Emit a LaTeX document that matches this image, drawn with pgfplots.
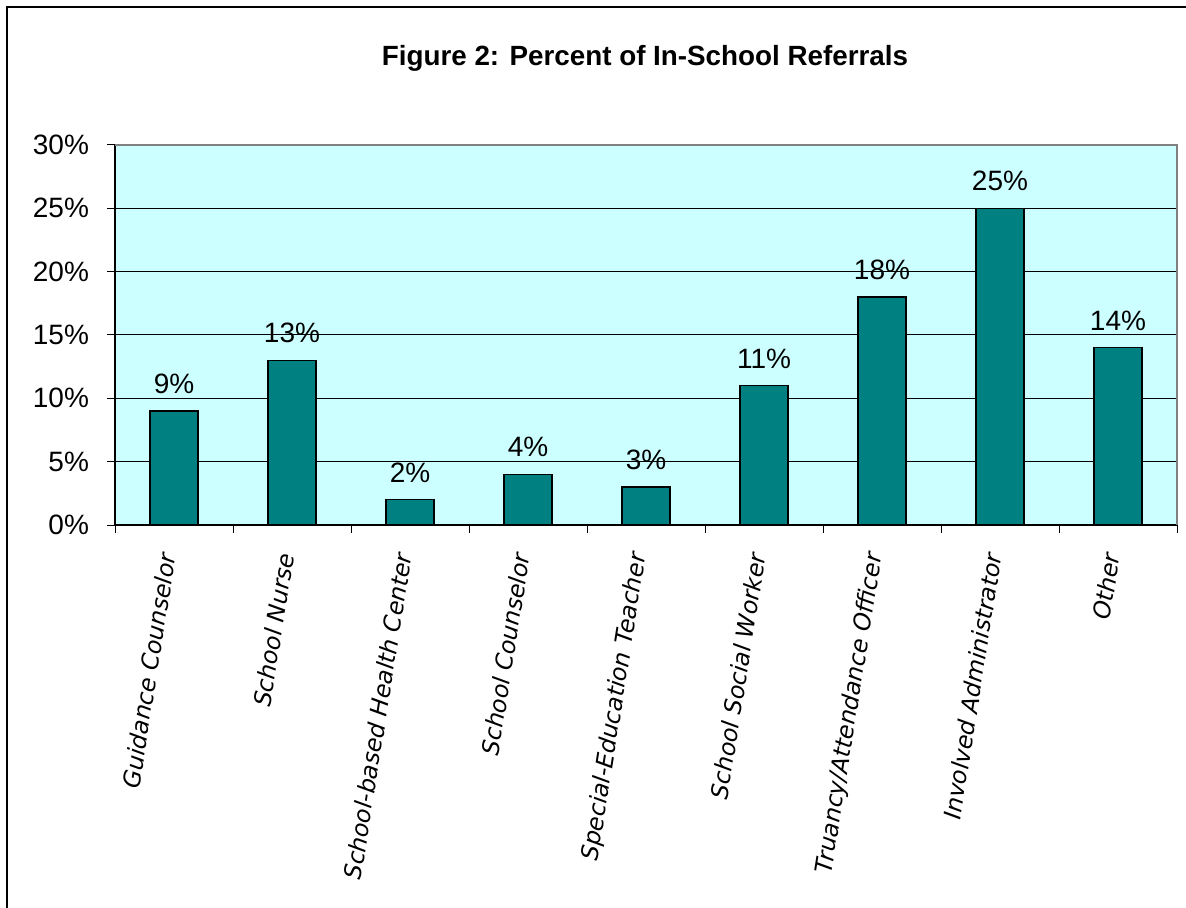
\documentclass[border=0pt]{standalone}
\usepackage{pgfplots}
\pgfplotsset{compat=1.18}
\usepackage{fontspec}
\setmainfont{Liberation Sans}
\newfontfamily\labfont{DejaVu Sans}
\definecolor{bgcyan}{HTML}{CCFFFF}
\definecolor{barteal}{HTML}{008080}
\begin{document}
\begin{tikzpicture}
\useasboundingbox (-57.5pt,-191.5pt) rectangle (535.5pt,262.5pt);
\begin{axis}[
  at={(0,0)}, anchor=south west,
  scale only axis,
  width=531pt, height=190pt,
  xmin=0.5, xmax=9.5, ymin=0, ymax=30,
  axis lines=left,
  axis line style={-, black, line width=0.6pt},
  axis background/.style={fill=bgcyan},
  tick align=outside,
  major tick length=4pt,
  tick style={black, line width=0.5pt},
  xtick={0.5,1.5,...,9.5},
  xticklabels={},
  extra x ticks={1,2,3,4,5,6,7,8,9},
  extra x tick labels={Guidance Counselor,School Nurse,School-based Health Center,School Counselor,Special-Education Teacher,School Social Worker,Truancy/Attendance Officer,Involved Administrator,Other},
  extra x tick style={major tick length=0pt, tick label style={yshift=-13pt, xshift=-3pt, rotate=81, anchor=east, font=\labfont\itshape\fontsize{11.8}{14}\selectfont, inner sep=1pt}},
  ytick={0,5,...,30},
  yticklabel={\pgfmathprintnumber{\tick}\%},
  yticklabel style={font=\fontsize{14}{16}\selectfont, xshift=-5.5pt},
  /pgf/number format/assume math mode=true,
  ymajorgrids,
  grid style={black, line width=0.5pt},
  ybar, bar width=24pt,
  nodes near coords={\pgfmathprintnumber{\pgfplotspointmeta}\%},
  nodes near coords style={font=\fontsize{14}{16}\selectfont, black, yshift=5pt},
  clip=false,
]
\addplot[fill=barteal, draw=black, line width=0.8pt] coordinates {
  (1,9) (2,13) (3,2) (4,4) (5,3) (6,11) (7,18) (8,25) (9,14)
};
\draw[gray, line width=0.6pt] (rel axis cs:0,1) -- (rel axis cs:1,1) -- (rel axis cs:1,0);
\end{axis}
\node[font=\bfseries\fontsize{13.9}{16}\selectfont] at (265pt,233.5pt) {Figure 2: Percent of In-School Referrals};
\draw[black, line width=1pt] (-54pt,-191.5pt) -- (-54pt,259pt) -- (535.5pt,259pt);
\end{tikzpicture}
\end{document}
